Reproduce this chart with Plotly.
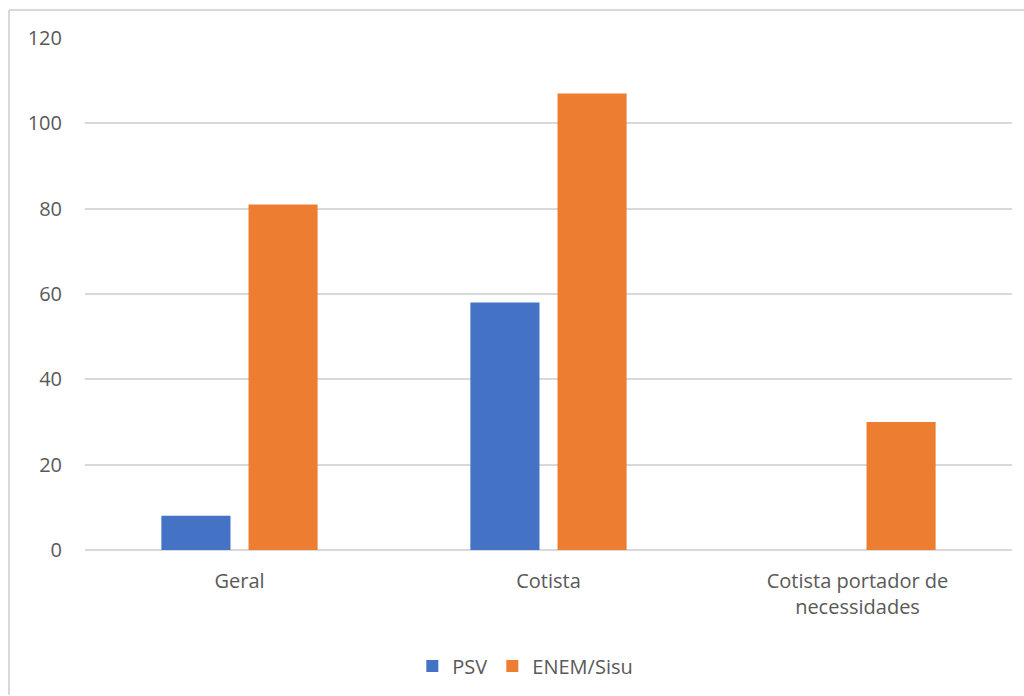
import plotly.graph_objects as go

categories = ["Geral", "Cotista", "Cotista portador de<br>necessidades"]
psv = [8, 58, 0]
enem_sisu = [81, 107, 30]
y_ticks = [0, 20, 40, 60, 80, 100, 120]

BLUE = "#4472C4"
ORANGE = "#ED7D31"
GRID = "#D9D9D9"
TEXT = "#595959"
FONT = "Open Sans"
FS = 20

fig = go.Figure()
fig.add_trace(go.Bar(x=categories, y=psv, name="PSV", marker=dict(color=BLUE, line=dict(width=0))))
fig.add_trace(go.Bar(x=categories, y=enem_sisu, name="ENEM/Sisu", marker=dict(color=ORANGE, line=dict(width=0))))

# plot area geometry (pixels) used for the outer frame lines
L, R, T, B = 85, 12, 38, 145
W, H = 1024 - L - R, 696 - T - B

fig.update_layout(
    width=1024, height=696,
    margin=dict(l=L, r=R, t=T, b=B),
    paper_bgcolor="white", plot_bgcolor="white",
    barmode="group", bargap=0.436, bargroupgap=0.207,
    font=dict(family=FONT, size=FS, color=TEXT),
    showlegend=True,
    legend=dict(orientation="h", x=0.475, xanchor="center", y=-0.224, yanchor="middle",
                font=dict(family=FONT, size=FS, color=TEXT), itemwidth=30),
    xaxis=dict(showline=False, showgrid=False, ticks="", ticklabelstandoff=17,
               tickfont=dict(size=FS, color=TEXT)),
    yaxis=dict(range=[0, 120], tickvals=y_ticks, showgrid=True, gridcolor=GRID, gridwidth=1.5,
               zeroline=True, zerolinecolor=GRID, zerolinewidth=1.5, showline=False,
               ticks="", ticklabelstandoff=22, tickfont=dict(size=FS, color=TEXT)),
    shapes=[
        dict(type="line", xref="paper", yref="paper",
             x0=(9 - L) / W, x1=(1024 - L) / W, y0=(H + T - 10) / H, y1=(H + T - 10) / H,
             line=dict(color=GRID, width=2)),
        dict(type="line", xref="paper", yref="paper",
             x0=(9 - L) / W, x1=(9 - L) / W, y0=(H + T - 10) / H, y1=-(B) / H,
             line=dict(color=GRID, width=2)),
    ],
)

fig.write_html("out.html")
